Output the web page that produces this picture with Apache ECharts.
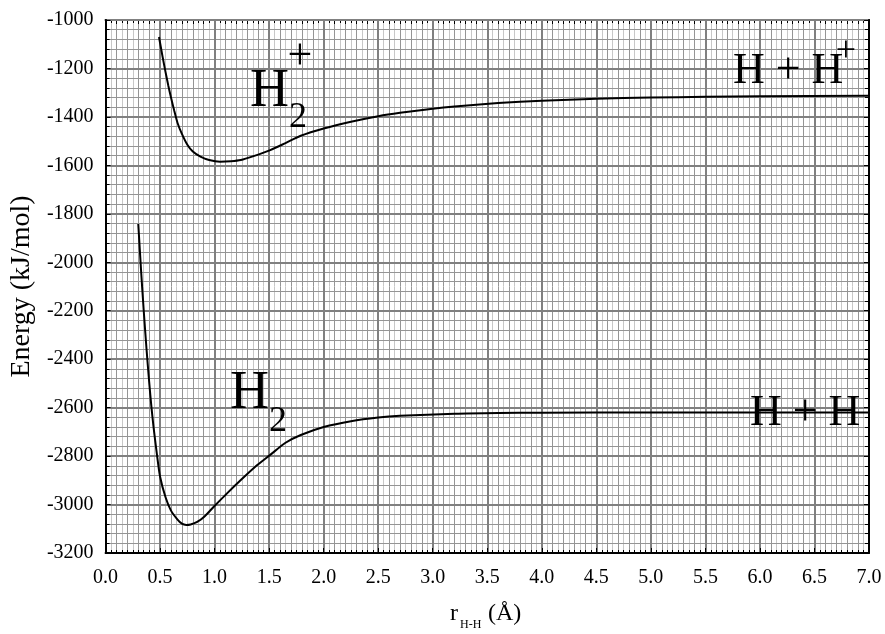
<!DOCTYPE html>
<html>
<head>
<meta charset="utf-8">
<title>H2 / H2+ potential energy curves</title>
<script src="https://cdn.jsdelivr.net/npm/echarts@6/dist/echarts.min.js"></script>
<style>
  html, body { margin: 0; padding: 0; background: #fff; }
  #main { width: 885px; height: 634px; }
</style>
</head>
<body>
<div id="main"></div>
<script>
// values
var h2plusR = [0.49, 0.52, 0.55, 0.575, 0.60, 0.63, 0.66, 0.70, 0.75, 0.80, 0.87, 0.95, 1.05, 1.15, 1.24, 1.35, 1.51, 1.65, 1.79, 2.00, 2.25, 2.50, 2.70, 3.00, 3.20, 3.60, 4.00, 4.50, 5.00, 5.50, 6.00, 7.00];
var h2plusE = [-1070, -1145, -1215, -1270, -1320, -1375, -1425, -1470, -1515, -1543, -1564, -1578, -1585, -1583, -1578, -1563, -1537, -1508, -1478, -1448, -1420, -1397, -1383, -1366, -1357, -1343, -1333, -1325, -1320, -1317, -1315, -1313];
var h2R = [0.30, 0.325, 0.35, 0.375, 0.40, 0.42, 0.44, 0.47, 0.50, 0.55, 0.60, 0.66, 0.70, 0.74, 0.78, 0.84, 0.91, 0.99, 1.10, 1.24, 1.37, 1.51, 1.65, 1.79, 2.00, 2.25, 2.50, 2.70, 3.20, 3.60, 4.00, 5.00, 7.00];
var h2E = [-1842, -2030, -2200, -2355, -2495, -2595, -2680, -2790, -2885, -2970, -3025, -3062, -3079, -3084, -3082, -3072, -3048, -3010, -2960, -2899, -2845, -2795, -2745, -2713, -2680, -2656, -2641, -2634, -2625, -2622, -2621, -2620, -2620];

var FONT = '"Liberation Serif", "Times New Roman", serif';

function pairs(xs, ys) {
  return xs.map(function (x, i) { return [x, ys[i]]; });
}

function txt(str, x, y, size, align) {
  return {
    type: 'text', x: x, y: y, z: 10,
    style: {
      text: str, font: size + 'px ' + FONT, fill: '#000',
      textAlign: align || 'left', textVerticalAlign: 'middle',
      align: align || 'left', verticalAlign: 'middle'
    }
  };
}

var chart = echarts.init(document.getElementById('main'));
chart.setOption({
  animation: false,
  backgroundColor: '#fff',
  grid: { left: 105, right: 16, top: 20, bottom: 81 },
  xAxis: [
    {
      type: 'value', position: 'bottom', min: 0, max: 7, interval: 0.5, z: 1,
      axisLine: { show: true, onZero: false, lineStyle: { color: '#000', width: 2 } },
      axisTick: { show: true, inside: true, length: 5, lineStyle: { color: '#000' } },
      minorTick: { show: true, splitNumber: 10, length: 3, lineStyle: { color: '#000' } },
      axisLabel: {
        margin: 15, color: '#000', fontFamily: FONT, fontSize: 20,
        formatter: function (v) { return v.toFixed(1); }
      },
      splitLine: { show: true, lineStyle: { color: '#808080', width: 2 } }
    },
    {
      type: 'value', position: 'top', min: 0, max: 7, interval: 0.1, z: 0,
      axisLine: { show: true, onZero: false, lineStyle: { color: '#000', width: 2 } },
      axisTick: { show: true, inside: true, length: 4, lineStyle: { color: '#000' } },
      minorTick: { show: true, splitNumber: 2, length: 3, lineStyle: { color: '#000' } },
      axisLabel: { show: false },
      splitLine: { show: true, lineStyle: { color: '#959595', width: 1 } },
      minorSplitLine: { show: true, lineStyle: { color: '#c8c8c8', width: 1 } }
    }
  ],
  yAxis: [
    {
      type: 'value', position: 'left', min: -3200, max: -1000, interval: 200, z: 1,
      name: 'Energy (kJ/mol)', nameLocation: 'middle', nameGap: 60, nameRotate: 90,
      nameTextStyle: { color: '#000', fontFamily: FONT, fontSize: 28 },
      axisLine: { show: true, onZero: false, lineStyle: { color: '#000', width: 2 } },
      axisTick: { show: true, inside: true, length: 5, lineStyle: { color: '#000' } },
      minorTick: { show: true, splitNumber: 5, length: 4, lineStyle: { color: '#000' } },
      axisLabel: {
        margin: 12, color: '#000', fontFamily: FONT, fontSize: 20,
        formatter: function (v) { return String(v); }
      },
      splitLine: { show: true, lineStyle: { color: '#808080', width: 2 } },
      minorSplitLine: { show: true, lineStyle: { color: '#959595', width: 1 } }
    },
    {
      type: 'value', position: 'right', min: -3200, max: -1000, interval: 200, z: 1,
      axisLine: { show: true, onZero: false, lineStyle: { color: '#000', width: 2 } },
      axisTick: { show: true, inside: true, length: 5, lineStyle: { color: '#000' } },
      minorTick: { show: true, splitNumber: 5, length: 4, lineStyle: { color: '#000' } },
      axisLabel: { show: false },
      splitLine: { show: false }
    }
  ],
  series: [
    {
      name: 'H2+', type: 'line', xAxisIndex: 0, yAxisIndex: 0,
      data: pairs(h2plusR, h2plusE),
      smooth: 0.25, showSymbol: false, z: 5,
      lineStyle: { color: '#000', width: 2 }
    },
    {
      name: 'H2', type: 'line', xAxisIndex: 0, yAxisIndex: 0,
      data: pairs(h2R, h2E),
      smooth: 0.25, showSymbol: false, z: 5,
      lineStyle: { color: '#000', width: 2 }
    }
  ],
  graphic: [
    // H2+ label
    txt('H', 250, 92, 54),
    txt('2', 289, 118, 36),
    txt('+', 300, 57, 44, 'center'),
    // H2 label
    txt('H', 230, 394, 54),
    txt('2', 269, 422, 36),
    // dissociation limits
    txt('H + H', 733, 71, 44),
    txt('+', 846, 52, 36, 'center'),
    txt('H + H', 750, 413, 44),
    // x axis title
    txt('r', 450, 614, 24),
    txt('H-H', 460, 625, 12),
    txt('(Å)', 488, 614, 24)
  ]
});
</script>
</body>
</html>
